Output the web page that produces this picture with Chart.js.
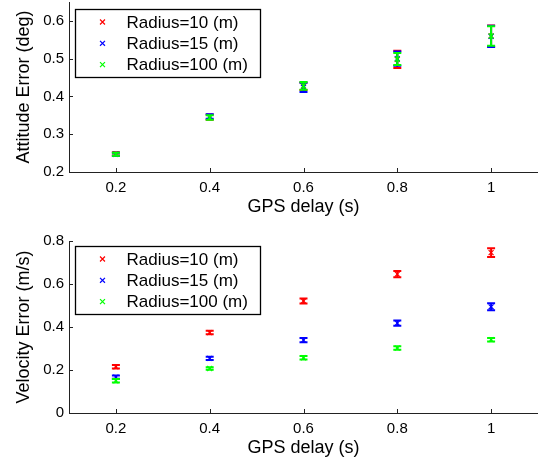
<!DOCTYPE html>
<html>
<head>
<meta charset="utf-8">
<script src="https://cdn.jsdelivr.net/npm/chart.js@4.4.0/dist/chart.umd.min.js"></script>
<style>
html, body { margin: 0; padding: 0; background: #fff; }
#wrap { position: relative; width: 538px; height: 464px; overflow: hidden; }
canvas { position: absolute; left: 0; }
</style>
</head>
<body>
<div id="wrap">
  <canvas id="attChart" width="538" height="232" style="top:0"></canvas>
  <canvas id="velChart" width="538" height="232" style="top:232px"></canvas>
</div>
<script>
// GPS delay values (s)
var delays = [0.2, 0.4, 0.6, 0.8, 1];
var seriesNames = ['Radius=10 (m)', 'Radius=15 (m)', 'Radius=100 (m)'];
var seriesColors = ['#ff0000', '#0000ff', '#00ff00'];

// attitude error (deg) and half-width of error bars
var attR = [0.248, 0.345, 0.427, 0.498, 0.560];
var attB = [0.247, 0.347, 0.424, 0.500, 0.559];
var attG = [0.247, 0.344, 0.428, 0.499, 0.560];
var attRErr = [0.004, 0.007, 0.010, 0.023, 0.028];
var attBErr = [0.004, 0.006, 0.012, 0.019, 0.028];
var attGErr = [0.004, 0.006, 0.010, 0.016, 0.026];
var attTicks = [0.2, 0.3, 0.4, 0.5, 0.6];

// velocity error (m/s)
var velR = [0.215, 0.374, 0.521, 0.646, 0.746];
var velB = [0.167, 0.254, 0.339, 0.418, 0.494];
var velG = [0.150, 0.207, 0.257, 0.302, 0.341];
var velRErr = [0.008, 0.008, 0.012, 0.015, 0.020];
var velBErr = [0.008, 0.008, 0.010, 0.012, 0.016];
var velGErr = [0.008, 0.006, 0.008, 0.008, 0.008];
var velTicks = [0, 0.2, 0.4, 0.6, 0.8];

var FONT = 'Liberation Sans, Arial, sans-serif';

function points(vals) {
  return delays.map(function (d, i) { return {x: d, y: vals[i]}; });
}

function makeSet(i, vals, errs) {
  return {
    label: seriesNames[i],
    data: points(vals),
    errors: errs,
    order: 3 - i, // later series drawn on top
    borderColor: seriesColors[i],
    backgroundColor: seriesColors[i],
    pointStyle: 'crossRot',
    pointRadius: 3.5,
    pointHoverRadius: 3.5,
    pointBorderWidth: 1.2,
    showLine: false
  };
}

// vertical error bars with caps, drawn after each dataset
var errorBars = {
  id: 'errorBars',
  afterDatasetDraw: function (chart, args) {
    var ds = chart.data.datasets[args.index];
    var xs = chart.scales.x, ys = chart.scales.y, ctx = chart.ctx;
    ctx.save();
    ctx.strokeStyle = ds.borderColor;
    ctx.lineWidth = 2;
    ds.data.forEach(function (p, i) {
      var e = ds.errors[i];
      var px = xs.getPixelForValue(p.x);
      var y1 = ys.getPixelForValue(p.y - e);
      var y2 = ys.getPixelForValue(p.y + e);
      ctx.beginPath();
      ctx.moveTo(px, y1); ctx.lineTo(px, y2);
      ctx.moveTo(px - 4, y1); ctx.lineTo(px + 4, y1);
      ctx.moveTo(px - 4, y2); ctx.lineTo(px + 4, y2);
      ctx.stroke();
    });
    ctx.restore();
  }
};

// matlab style inward ticks
var innerTicks = {
  id: 'innerTicks',
  afterDraw: function (chart) {
    var ctx = chart.ctx, a = chart.chartArea;
    ctx.save();
    ctx.strokeStyle = '#222';
    ctx.lineWidth = 1;
    ctx.beginPath();
    chart.scales.x.ticks.forEach(function (t) {
      var px = Math.round(chart.scales.x.getPixelForValue(t.value)) + 0.5;
      ctx.moveTo(px, a.bottom); ctx.lineTo(px, a.bottom - 4);
    });
    chart.scales.y.ticks.forEach(function (t) {
      var py = Math.round(chart.scales.y.getPixelForValue(t.value)) + 0.5;
      ctx.moveTo(a.left, py); ctx.lineTo(a.left + 4, py);
    });
    ctx.stroke();
    ctx.restore();
  }
};

// boxed legend in the upper left corner
var boxLegend = {
  id: 'boxLegend',
  afterDraw: function (chart, args, opts) {
    var ctx = chart.ctx;
    ctx.save();
    ctx.fillStyle = '#fff';
    ctx.fillRect(opts.x, opts.y, opts.w, opts.h);
    ctx.strokeStyle = '#000';
    ctx.lineWidth = 1.3;
    ctx.strokeRect(opts.x, opts.y, opts.w, opts.h);
    ctx.font = opts.fontSize + 'px ' + FONT;
    ctx.textBaseline = 'middle';
    chart.data.datasets.forEach(function (ds, i) {
      var cy = opts.y + opts.rowTop + i * opts.rowGap;
      ctx.strokeStyle = ds.borderColor;
      ctx.lineWidth = 1.2;
      Chart.helpers.drawPoint(ctx, {pointStyle: 'crossRot', radius: 3.5, borderWidth: 1.2}, opts.x + 27, cy);
      ctx.fillStyle = '#000';
      ctx.fillText(ds.label, opts.x + 51, cy + 1);
    });
    ctx.restore();
  }
};

function noPad(s) {
  s.paddingLeft = 0; s.paddingRight = 0; s.paddingTop = 0; s.paddingBottom = 0;
}

function makeChart(id, sets, yMin, yMax, yTicks, yTitle, cfg) {
  return new Chart(document.getElementById(id), {
    type: 'scatter',
    data: {datasets: sets},
    plugins: [errorBars, innerTicks, boxLegend],
    options: {
      responsive: false,
      animation: false,
      events: [],
      layout: {autoPadding: false, padding: {top: cfg.top, right: 0, bottom: 0, left: 0}},
      plugins: {
        legend: {display: false},
        tooltip: {enabled: false},
        boxLegend: cfg.legend
      },
      scales: {
        x: {
          type: 'linear', min: 0.1, max: 1.1,
          afterBuildTicks: function (s) { s.ticks = delays.map(function (v) { return {value: v}; }); },
          afterFit: function (s) { s.height = cfg.xHeight; noPad(s); },
          grid: {display: true, drawOnChartArea: false, drawTicks: false},
          border: {display: true, color: '#222', width: 1},
          ticks: {font: {family: FONT, size: 15}, color: '#000', padding: 7,
                  maxRotation: 0, callback: function (v) { return String(v); }},
          title: {display: true, text: 'GPS delay (s)', color: '#000',
                  font: {family: FONT, size: 18}, padding: {top: 0, bottom: cfg.xTitlePad}}
        },
        y: {
          min: yMin, max: yMax,
          afterBuildTicks: function (s) { s.ticks = yTicks.map(function (v) { return {value: v}; }); },
          afterFit: function (s) { s.width = 69; noPad(s); },
          grid: {display: true, drawOnChartArea: false, drawTicks: false},
          border: {display: true, color: '#222', width: 1},
          ticks: {font: {family: FONT, size: 15}, color: '#000', padding: 5,
                  callback: function (v) { return String(v); }},
          title: {display: true, text: yTitle, color: '#000',
                  font: {family: FONT, size: 18}, padding: {top: 13, bottom: 0}}
        }
      }
    }
  });
}

makeChart('attChart',
  [makeSet(0, attR, attRErr), makeSet(1, attB, attBErr), makeSet(2, attG, attGErr)],
  0.2, 0.65, attTicks, 'Attitude Error (deg)',
  {top: 2, xHeight: 60, xTitlePad: 14,
   legend: {x: 75.5, y: 9.5, w: 185, h: 68, rowTop: 12.5, rowGap: 21.3, fontSize: 17}});

makeChart('velChart',
  [makeSet(0, velR, velRErr), makeSet(1, velB, velBErr), makeSet(2, velG, velGErr)],
  0, 0.8, velTicks, 'Velocity Error (m/s)',
  {top: 9, xHeight: 51, xTitlePad: 5,
   legend: {x: 75.5, y: 14.5, w: 185, h: 68, rowTop: 12.5, rowGap: 21.3, fontSize: 17}});
</script>
</body>
</html>
